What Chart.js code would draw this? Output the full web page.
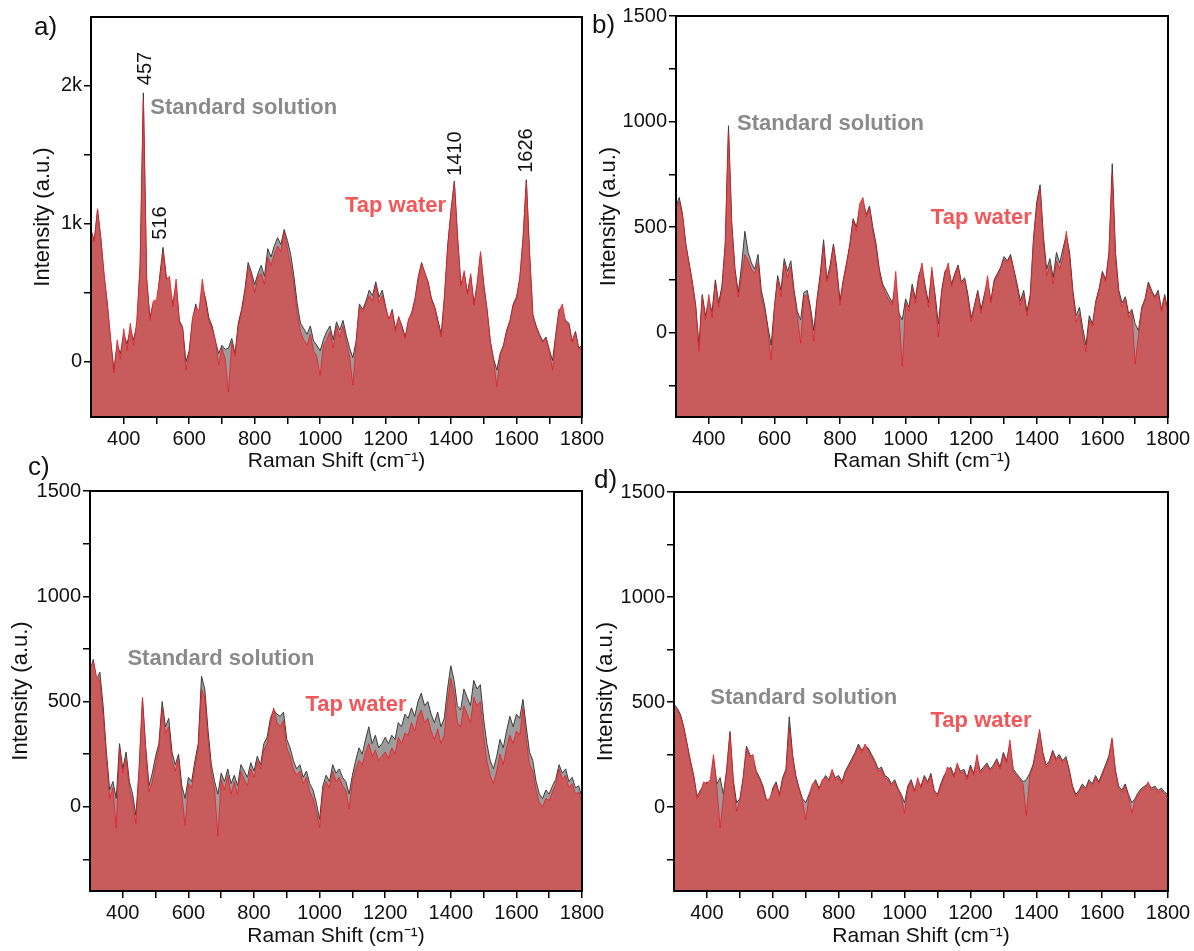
<!DOCTYPE html>
<html>
<head>
<meta charset="utf-8">
<script src="https://cdn.jsdelivr.net/npm/chart.js@4.4.1/dist/chart.umd.min.js"></script>
<style>
  body { margin: 0; background: #fff; width: 1194px; height: 951px; position: relative; overflow: hidden; font-family: "Liberation Sans", Arial, sans-serif; }
  canvas { position: absolute; }
  .tag { position: absolute; font-size: 26px; line-height: 1; color: #111; z-index: 5; }
</style>
</head>
<body>
<canvas id="chartA" width="610" height="480" style="left:0;top:0"></canvas>
<canvas id="chartB" width="602" height="480" style="left:592px;top:0"></canvas>
<canvas id="chartC" width="610" height="506" style="left:0;top:445px"></canvas>
<canvas id="chartD" width="604" height="506" style="left:590px;top:445px"></canvas>
<div class="tag" style="left:34px;top:13px">a)</div>
<div class="tag" style="left:592px;top:11px">b)</div>
<div class="tag" style="left:28px;top:453px">c)</div>
<div class="tag" style="left:594px;top:466px">d)</div>
<script>
// Raman shift axis (cm-1), one value every 10
const shifts = [
  300, 310, 320, 330, 340, 350, 360, 370, 380, 390,
  400, 410, 420, 430, 440, 450, 460, 470, 480, 490,
  500, 510, 520, 530, 540, 550, 560, 570, 580, 590,
  600, 610, 620, 630, 640, 650, 660, 670, 680, 690,
  700, 710, 720, 730, 740, 750, 760, 770, 780, 790,
  800, 810, 820, 830, 840, 850, 860, 870, 880, 890,
  900, 910, 920, 930, 940, 950, 960, 970, 980, 990,
  1000, 1010, 1020, 1030, 1040, 1050, 1060, 1070, 1080, 1090,
  1100, 1110, 1120, 1130, 1140, 1150, 1160, 1170, 1180, 1190,
  1200, 1210, 1220, 1230, 1240, 1250, 1260, 1270, 1280, 1290,
  1300, 1310, 1320, 1330, 1340, 1350, 1360, 1370, 1380, 1390,
  1400, 1410, 1420, 1430, 1440, 1450, 1460, 1470, 1480, 1490,
  1500, 1510, 1520, 1530, 1540, 1550, 1560, 1570, 1580, 1590,
  1600, 1610, 1620, 1630, 1640, 1650, 1660, 1670, 1680, 1690,
  1700, 1710, 1720, 1730, 1740, 1750, 1760, 1770, 1780, 1790,
  1800
];

// a) standard solution / tap water
const aStd = [
  950, 880, 1100, 900, 620, 420, 150, -60, 120, 60,
  200, 130, 230, 160, 260, 700, 1950, 600, 320, 420,
  380, 620, 830, 620, 520, 420, 560, 300, 250, 0,
  80, 300, 420, 330, 540, 460, 320, 260, 150, 60,
  120, 90, 100, 170, 60, 280, 380, 520, 720, 650,
  560, 640, 700, 620, 820, 760, 840, 900, 850, 960,
  880, 780, 620, 420, 280, 240, 200, 260, 150, 120,
  80, 160, 220, 260, 160, 290, 230, 300, 190, 100,
  30, 150, 420, 380, 440, 520, 480, 580, 470, 520,
  400, 300, 380, 240, 320, 260, 180, 300, 360, 460,
  620, 720, 640, 580, 460, 400, 300, 200, 480, 850,
  1100, 1310, 900, 560, 640, 500, 620, 420, 560, 780,
  560, 380, 150, 20, -60, 60, 120, 230, 300, 420,
  470, 600, 900, 1320, 780, 340, 260, 200, 150, 180,
  90, 10, 200, 380, 330, 300, 280, 150, 220, 100,
  120
];
const aTap = [
  960, 870, 1110, 880, 640, 410, 170, -80, 160, 20,
  240, 80, 280, 120, 300, 690, 1900, 610, 300, 440,
  450, 600, 800, 600, 620, 400, 600, 280, 240, -60,
  60, 320, 400, 370, 600, 430, 300, 240, 160, -20,
  100, 20, -220, 140, 40, 260, 360, 500, 690, 620,
  500, 620, 640, 560, 760, 700, 780, 840, 800, 940,
  820, 700, 560, 350, 220, 160, 120, 200, 80, 40,
  -100, 120, 160, 220, 100, 260, 180, 260, 140, 40,
  -170, 140, 400, 360, 420, 480, 440, 560, 430, 480,
  390, 310, 370, 220, 330, 250, 170, 310, 350, 450,
  610, 710, 650, 570, 450, 390, 280, 180, 470, 840,
  1090, 1300, 890, 550, 660, 490, 640, 410, 580, 800,
  550, 370, 140, 10, -180, 50, 110, 220, 290, 410,
  460, 610, 890, 1310, 770, 330, 250, 190, 140, 170,
  80, -60, 190, 370, 420, 290, 270, 140, 210, 90,
  110
];

// b)
const bStd = [
  600, 640, 560, 420, 330, 240, 130, -60, 180, 80,
  150, 100, 250, 140, 220, 420, 980, 520, 300, 190,
  320, 480, 380, 330, 300, 370, 200, 130, 30, -60,
  120, 270, 200, 350, 290, 340, 200, 100, 60, 190,
  200, 120, 10, 160, 280, 440, 250, 320, 420, 310,
  150, 250, 330, 420, 540, 500, 590, 620, 560, 600,
  500, 420, 300, 230, 200, 170, 140, 230, 90, 60,
  160, 120, 230, 160, 270, 310, 220, 140, 290, 180,
  40, 200, 290, 310, 230, 280, 320, 240, 260, 180,
  70, 130, 200, 110, 180, 240, 150, 250, 280, 310,
  360, 340, 370, 300, 230, 150, 200, 100, 180, 450,
  620, 700, 460, 300, 350, 260, 380, 330, 400, 460,
  380, 200, 80, 120, 20, -60, 80, 40, 150, 210,
  290, 250, 380, 800, 380, 200, 140, 170, 90, 110,
  40, 10, 120, 160, 240, 200, 170, 200, 110, 180,
  100
];
const bTap = [
  590, 620, 550, 410, 320, 230, 120, -90, 170, 60,
  180, 70, 240, 120, 200, 400, 950, 500, 280, 170,
  270, 370, 340, 300, 280, 330, 170, 110, 10, -130,
  110, 250, 170, 330, 260, 310, 180, 80, -50, 170,
  180, 100, -40, 150, 260, 410, 240, 300, 410, 290,
  130, 240, 320, 410, 530, 480, 610, 640, 550, 590,
  480, 400, 280, 220, 180, 150, 130, 290, 80, -160,
  140, 100, 210, 140, 260, 330, 200, 120, 310, 160,
  -20, 190, 280, 330, 220, 270, 310, 230, 250, 160,
  50, 120, 190, 90, 170, 270, 140, 240, 270, 300,
  350, 330, 360, 290, 210, 130, 180, 80, 160, 430,
  600, 680, 430, 270, 320, 230, 340, 300, 360, 480,
  350, 180, 50, 90, -20, -90, 60, 30, 140, 200,
  280, 240, 370, 750, 350, 180, 120, 160, 70, 100,
  -150, -10, 110, 150, 230, 190, 160, 190, 100, 170,
  90
];

// c)
const cStd = [
  640, 700, 600, 640, 480, 260, 80, 120, 40, 300,
  180, 260, 120, 60, -40, 180, 510, 280, 100, 160,
  240, 300, 500, 380, 420, 260, 200, 250, 100, 40,
  140, 120, 220, 300, 620, 560, 360, 200, 120, 60,
  160, 120, 180, 110, 150, 100, 200, 170, 140, 210,
  170, 240, 200, 300, 330, 420, 460, 440, 430, 450,
  320, 280, 220, 180, 200, 140, 170, 110, 80, 20,
  -60, 100, 150, 120, 200, 160, 180, 140, 120, 60,
  150, 220, 280, 250, 320, 380, 300, 340, 280, 300,
  330, 300, 340, 320, 400, 380, 440, 420, 470, 430,
  500, 540, 480, 500, 440, 400, 450, 380, 420, 560,
  670, 600, 480, 460, 560, 520, 480, 600, 560, 580,
  420, 300, 220, 180, 240, 320, 280, 360, 430, 380,
  440, 420, 510, 380, 260, 220, 120, 60, 40, 80,
  60, 100, 130, 200, 160, 180, 120, 140, 90, 100,
  40
];
const cTap = [
  660, 690, 620, 600, 440, 230, 40, 90, -100, 280,
  160, 230, 90, 20, -80, 190, 520, 260, 70, 120,
  200, 280, 470, 350, 380, 220, 170, 230, 60, -90,
  110, 90, 190, 280, 560, 520, 320, 160, 80, -140,
  130, 80, 150, 60, 120, 60, 170, 130, 100, 180,
  140, 220, 180, 270, 300, 400, 470, 400, 380, 410,
  280, 240, 180, 150, 170, 110, 140, 70, 40, -20,
  -100, 80, 120, 90, 170, 120, 140, 100, 80, -10,
  120, 180, 220, 200, 260, 300, 240, 270, 220, 240,
  260, 230, 280, 250, 330, 300, 350, 340, 400, 360,
  430, 460, 400, 420, 360, 320, 370, 300, 340, 500,
  610, 540, 400, 380, 480, 440, 400, 520, 480, 500,
  340, 220, 150, 110, 170, 250, 200, 280, 340, 300,
  360, 340, 470, 320, 200, 170, 80, 20, 0, 40,
  30, 70, 110, 180, 130, 150, 90, 110, 60, 70,
  20
];

// d)
const dStd = [
  490, 470, 440, 380, 300, 220, 150, 50, 80, 100,
  120, 90, 230, 110, 140, 60, 180, 360, 130, 20,
  40, 140, 290, 250, 230, 170, 140, 100, 40, 20,
  90, 120, 60, 140, 180, 430, 250, 150, 90, 40,
  20, 60, 100, 130, 90, 120, 150, 130, 170, 140,
  150, 120, 170, 200, 230, 260, 300, 270, 290, 280,
  250, 220, 180, 190, 150, 140, 110, 130, 90, 60,
  20, 100, 130, 80, 120, 100, 150, 120, 160, 80,
  60, 110, 150, 170, 190, 150, 200, 170, 180, 140,
  200, 160, 230, 170, 190, 210, 180, 200, 230, 190,
  260, 220, 300, 180, 160, 140, 120, 130, 160, 200,
  280, 360, 260, 200, 220, 270, 230, 250, 220, 240,
  180, 100, 60, 80, 110, 90, 130, 110, 150, 120,
  160, 200, 240, 320, 180, 100, 80, 110, 60, 20,
  40, 70, 90, 100, 110, 90, 100, 80, 90, 70,
  60
];
const dTap = [
  480, 460, 430, 370, 290, 210, 140, 40, 70, 120,
  110, 130, 250, 100, -100, 50, 170, 350, 120, -20,
  30, 130, 280, 240, 250, 160, 130, 90, 30, 40,
  80, 110, 50, 130, 170, 380, 240, 140, 80, 30,
  -60, 50, 110, 120, 80, 130, 140, 120, 180, 130,
  140, 110, 160, 190, 220, 250, 290, 260, 300, 270,
  240, 210, 170, 180, 140, 130, 100, 120, 80, 50,
  -30, 90, 120, 70, 140, 90, 140, 110, 150, 70,
  50, 100, 140, 190, 180, 140, 210, 160, 170, 130,
  190, 150, 250, 160, 180, 200, 170, 190, 220, 180,
  250, 210, 320, 170, 150, 130, 110, -40, 150, 190,
  270, 370, 250, 190, 210, 260, 220, 240, 210, 230,
  170, 90, 50, 70, 100, 80, 120, 100, 140, 110,
  150, 190, 230, 330, 170, 90, 70, 100, 50, -30,
  30, 60, 80, 90, 120, 80, 90, 70, 80, 60,
  50
];

// tick positions and labels
const xTicks = [400, 500, 600, 700, 800, 900, 1000, 1100, 1200, 1300, 1400, 1500, 1600, 1700, 1800];
const aYTicks = [0, 500, 1000, 1500, 2000];
const aYLabels = ['0', '', '1k', '', '2k'];
const yTicks = [-250, 0, 250, 500, 750, 1000, 1250, 1500];
const yLabels = ['', '0', '', '500', '', '1000', '', '1500'];

const FONT = '"Liberation Sans", Arial, sans-serif';
const GREY_TXT = '#8a8a8a';
const RED_TXT = '#f2575a';

const toPoints = (vals) => shifts.map((s, i) => ({ x: s, y: vals[i] }));

// box round the plot area
const frame = {
  id: 'frame',
  afterDraw(chart) {
    const { ctx, chartArea: a } = chart;
    ctx.save();
    ctx.strokeStyle = '#000';
    ctx.lineWidth = 2;
    ctx.strokeRect(a.left, a.top, a.right - a.left, a.bottom - a.top);
    ctx.restore();
  }
};

// text notes placed in data units
const notes = {
  id: 'notes',
  afterDraw(chart, args, opts) {
    const { ctx } = chart;
    const sx = chart.scales.x, sy = chart.scales.y;
    ctx.save();
    (opts.items || []).forEach(n => {
      const px = sx.getPixelForValue(n.x);
      const py = sy.getPixelForValue(n.y);
      ctx.fillStyle = n.color;
      ctx.font = (n.bold ? 'bold ' : '') + n.size + 'px ' + FONT;
      ctx.textAlign = 'left';
      ctx.textBaseline = 'middle';
      if (n.rotate) {
        ctx.save();
        ctx.translate(px, py);
        ctx.rotate(-Math.PI / 2);
        ctx.fillText(n.text, 0, 0);
        ctx.restore();
      } else {
        ctx.fillText(n.text, px, py);
      }
    });
    ctx.restore();
  }
};

const makeChart = (id, cfg) => {
  const tickFont = { family: FONT, size: 20 };
  return new Chart(document.getElementById(id), {
    type: 'line',
    data: {
      datasets: [
        {
          label: 'Tap water',
          data: toPoints(cfg.tap),
          borderColor: 'rgba(232, 25, 35, 0.75)',
          borderWidth: 1,
          backgroundColor: '#c85b5b',
          fill: 'start',
          pointRadius: 0,
          tension: 0
        },
        {
          label: 'Standard solution',
          data: toPoints(cfg.std),
          borderColor: '#3c3c3c',
          borderWidth: 1,
          backgroundColor: '#9c9c9c',
          fill: 'start',
          pointRadius: 0,
          tension: 0
        }
      ]
    },
    options: {
      responsive: false,
      animation: false,
      layout: { padding: cfg.pad },
      plugins: {
        legend: { display: false },
        tooltip: { enabled: false },
        notes: { items: cfg.notes }
      },
      scales: {
        x: {
          type: 'linear',
          min: 300,
          max: 1800,
          afterBuildTicks: s => { s.ticks = xTicks.map(v => ({ value: v })); },
          afterFit: s => { s.height = cfg.xh; s.paddingLeft = 0; s.paddingRight = 0; },
          ticks: {
            autoSkip: false,
            maxRotation: 0,
            padding: 3,
            color: '#111',
            font: tickFont,
            callback: v => (v % 200 === 0 ? String(v) : '')
          },
          grid: { drawOnChartArea: false, drawTicks: true, tickLength: 7, color: '#000', lineWidth: 1.5 },
          border: { display: true, color: '#000', width: 2 },
          title: { display: true, text: 'Raman Shift (cm⁻¹)', color: '#111', font: { family: FONT, size: 21 }, padding: 0 }
        },
        y: {
          type: 'linear',
          min: cfg.ymin,
          max: cfg.ymax,
          afterBuildTicks: s => { s.ticks = cfg.yTicks.map(v => ({ value: v })); },
          afterFit: s => { s.width = cfg.yw; s.paddingTop = 0; s.paddingBottom = 0; },
          ticks: {
            autoSkip: false,
            padding: 2,
            color: '#111',
            font: tickFont,
            callback: (v, i) => cfg.yLabels[i]
          },
          grid: { drawOnChartArea: false, drawTicks: true, tickLength: 7, color: '#000', lineWidth: 1.5 },
          border: { display: true, color: '#000', width: 2 },
          title: { display: true, text: 'Intensity (a.u.)', color: '#111', font: { family: FONT, size: 22 }, padding: 0 }
        }
      }
    },
    plugins: [frame, notes]
  });
};

const label = (text, x, y, color) => ({ text, x, y, color, bold: true, size: 22 });
const peak = (text, x, y) => ({ text, x, y, color: '#111', size: 20, rotate: true });

makeChart('chartA', {
  std: aStd, tap: aTap, ymin: -400, ymax: 2500, yTicks: aYTicks, yLabels: aYLabels,
  pad: { left: 30, top: 17, right: 28, bottom: 6 }, yw: 61, xh: 57,
  notes: [
    label('Standard solution', 481, 1840, GREY_TXT),
    label('Tap water', 1076, 1130, RED_TXT),
    peak('457', 466, 2006),
    peak('516', 512, 885),
    peak('1410', 1413, 1348),
    peak('1626', 1630, 1370)
  ]
});
makeChart('chartB', {
  std: bStd, tap: bTap, ymin: -400, ymax: 1500, yTicks: yTicks, yLabels: yLabels,
  pad: { left: 4, top: 16, right: 26, bottom: 6 }, yw: 80, xh: 57,
  notes: [label('Standard solution', 486, 987, GREY_TXT), label('Tap water', 1077, 542, RED_TXT)]
});
makeChart('chartC', {
  std: cStd, tap: cTap, ymin: -400, ymax: 1500, yTicks: yTicks, yLabels: yLabels,
  pad: { left: 8, top: 46, right: 28, bottom: 2 }, yw: 82, xh: 58,
  notes: [label('Standard solution', 414, 701, GREY_TXT), label('Tap water', 957, 483, RED_TXT)]
});
makeChart('chartD', {
  std: dStd, tap: dTap, ymin: -400, ymax: 1500, yTicks: yTicks, yLabels: yLabels,
  pad: { left: 3, top: 47, right: 26, bottom: 2 }, yw: 81, xh: 58,
  notes: [label('Standard solution', 410, 517, GREY_TXT), label('Tap water', 1079, 408, RED_TXT)]
});
</script>
</body>
</html>
